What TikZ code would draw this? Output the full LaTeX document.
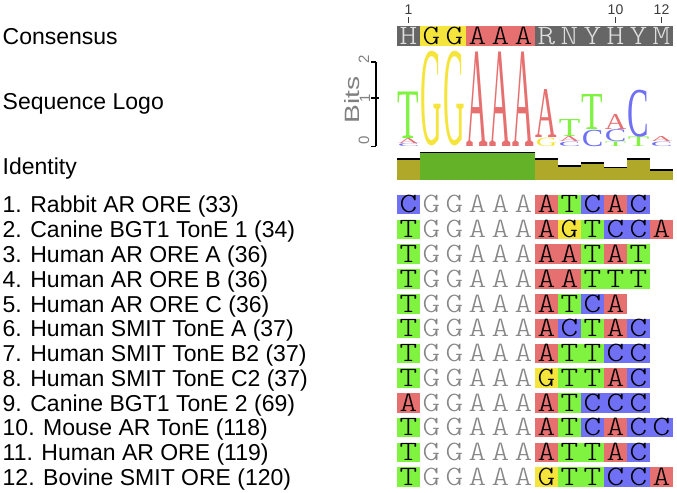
\documentclass[tikz,border=0pt]{standalone}
\usepackage{fontspec}
\usepackage{graphicx}
\setmainfont{Liberation Sans}
\newfontfamily\logof{Liberation Serif}
\newfontfamily\monolt{Latin Modern Mono Light}
\definecolor{nA}{RGB}{230,112,112}
\definecolor{nT}{RGB}{128,242,64}
\definecolor{nC}{RGB}{112,112,245}
\definecolor{nG}{RGB}{245,228,60}
\definecolor{consbg}{RGB}{102,102,102}
\definecolor{constxt}{RGB}{222,222,222}
\definecolor{cgray}{RGB}{135,135,135}
\definecolor{idol}{RGB}{176,168,40}
\definecolor{idgr}{RGB}{100,178,40}
\definecolor{axgray}{RGB}{128,128,128}
\definecolor{tickgray}{RGB}{60,60,60}
\newcommand\logoL[5]{\node[inner sep=0pt, anchor=south, text=#4] (lg#1#5) at ({397+23*(#1-0.5)},#2) {\resizebox*{21.5bp}{#3bp}{\logof #5}};}
\newcommand\mono[1]{\scalebox{1.2}[1]{#1}}
\begin{document}
\begin{tikzpicture}[x=1bp,y=-1bp,
  lbl/.style={anchor=base west, inner sep=0pt, font=\fontsize{23bp}{25bp}\selectfont},
  seqL/.style={anchor=base, inner sep=0pt, font=\monolt\fontsize{28bp}{29bp}\selectfont},
  ticklbl/.style={anchor=base, inner sep=0pt, text=tickgray, font=\fontsize{14bp}{15bp}\selectfont},
  axlbl/.style={inner sep=0pt, rotate=90, text=axgray, font=\fontsize{15bp}{16bp}\selectfont}]
\useasboundingbox (0,0) rectangle (677,493);
% left labels
\node[lbl] (lcons) at (2.5,45) {Consensus};
\node[lbl] (llogo) at (2.5,109.5) {Sequence Logo};
\node[lbl] (lid) at (2.5,175) {Identity};
\foreach \t [count=\k] in {1. Rabbit AR ORE (33),2. Canine BGT1 TonE 1 (34),3. Human AR ORE A (36),4. Human AR ORE B (36),5. Human AR ORE C (36),6. Human SMIT TonE A (37),7. Human SMIT TonE B2 (37),8. Human SMIT TonE C2 (37),9. Canine BGT1 TonE 2 (69),10. Mouse AR TonE (118),11. Human AR ORE (119),12. Bovine SMIT ORE (120)}
  \node[lbl] (lab\k) at (2.5,{213+24.75*(\k-1)}) {\t};
% consensus ticks
\foreach \c in {1,10,12} {
  \coordinate (tt\c) at ({397+23*(\c-0.5)},17);
  \coordinate (tb\c) at ({397+23*(\c-0.5)},23);
  \draw[line width=1bp, tickgray] (tt\c) -- (tb\c);
  \node[ticklbl] (tl\c) at ({397+23*(\c-0.5)},15) {\c};
}
% consensus row
\foreach \ch/\bg/\tc [count=\c] in {H/consbg/constxt,G/nG/black,G/nG/black,A/nA/black,A/nA/black,A/nA/black,R/consbg/constxt,N/consbg/constxt,Y/consbg/constxt,H/consbg/constxt,Y/consbg/constxt,M/consbg/constxt} {
  \fill[\bg] ({397+23*(\c-1)},26.5) rectangle ++(23,20);
  \node[seqL, text=\tc] (cs\c) at ({397+23*(\c-0.5)},44.5) {\mono{\ch}};
}
% bits axis
\coordinate (ax2) at (376,62);
\coordinate (ax0) at (376,146.5);
\draw[line width=1.3bp] (ax2) -- (ax0);
\draw[line width=1.3bp] (371,62) -- (ax2);
\draw[line width=1.3bp] (371,146.5) -- (ax0);
\draw[line width=1.3bp] (371,98) -- (379,98);
\node[axlbl] (b2) at (364,59) {2};
\node[axlbl] (b1) at (365,98) {1};
\node[axlbl] (b0) at (364,140) {0};
\node[inner sep=0pt, rotate=90, text=axgray] (bits) at (352,100) {\resizebox{47bp}{15bp}{Bits}};
% sequence logo
\logoL{1}{146.5}{3}{nC}{C}
\logoL{1}{143.5}{5}{nA}{A}
\logoL{1}{138.5}{46.5}{nT}{T}
\logoL{2}{146.5}{94.5}{nG}{G}
\logoL{3}{146.5}{94.5}{nG}{G}
\logoL{4}{146.5}{94.5}{nA}{A}
\logoL{5}{146.5}{94.5}{nA}{A}
\logoL{6}{146.5}{94.5}{nA}{A}
\logoL{7}{146.5}{8.5}{nG}{G}
\logoL{7}{138}{48}{nA}{A}
\logoL{8}{146.5}{4.5}{nC}{C}
\logoL{8}{142}{5}{nA}{A}
\logoL{8}{137}{17}{nT}{T}
\logoL{9}{146.5}{16.5}{nC}{C}
\logoL{9}{130}{35}{nT}{T}
\logoL{10}{146.5}{4.5}{nT}{T}
\logoL{10}{142}{12}{nC}{C}
\logoL{10}{130}{15}{nA}{A}
\logoL{11}{146.5}{9.5}{nT}{T}
\logoL{11}{137}{47}{nC}{C}
\logoL{12}{146.5}{4.5}{nC}{C}
\logoL{12}{142}{5}{nA}{A}
% identity
\foreach \tp/\col [count=\c] in {159.3/idol,152.7/idgr,152.7/idgr,152.7/idgr,152.7/idgr,152.7/idgr,159.3/idol,166/idol,163.3/idol,167.7/idol,159.3/idol,170/idol} {
  \fill[\col] ({397+23*(\c-1)},\tp) rectangle ({397+23*\c},180);
  \draw[line width=1.6bp] ({397+23*(\c-1)},\tp) -- ({397+23*\c},\tp);
}
% alignment
\foreach \seq [count=\k] in {{C,G,G,A,A,A,A,T,C,A,C},{T,G,G,A,A,A,A,G,T,C,C,A},{T,G,G,A,A,A,A,A,T,A,T},{T,G,G,A,A,A,A,A,T,T,T},{T,G,G,A,A,A,A,T,C,A},{T,G,G,A,A,A,A,C,T,A,C},{T,G,G,A,A,A,A,T,T,C,C},{T,G,G,A,A,A,G,T,T,A,C},{A,G,G,A,A,A,A,T,C,C,C},{T,G,G,A,A,A,A,T,C,A,C,C},{T,G,G,A,A,A,A,T,T,A,C},{T,G,G,A,A,A,G,T,T,C,C,A}} {
  \foreach \ch [count=\c] in \seq {
    \pgfmathsetmacro\xl{397+23*(\c-1)}
    \pgfmathsetmacro\yt{195+24.75*(\k-1)}
    \ifnum\c>1 \ifnum\c<7 \def\isc{1}\else\def\isc{0}\fi\else\def\isc{0}\fi
    \ifnum\isc=0
      \fill[n\ch] (\xl,\yt) rectangle ++(23,19.5);
      \node[seqL] (r\k c\c) at (\xl+11.5,\yt+18) {\mono{\ch}};
    \else
      \node[seqL, text=cgray] (r\k c\c) at (\xl+11.5,\yt+18) {\mono{\ch}};
    \fi
  }
}
\end{tikzpicture}
\end{document}
